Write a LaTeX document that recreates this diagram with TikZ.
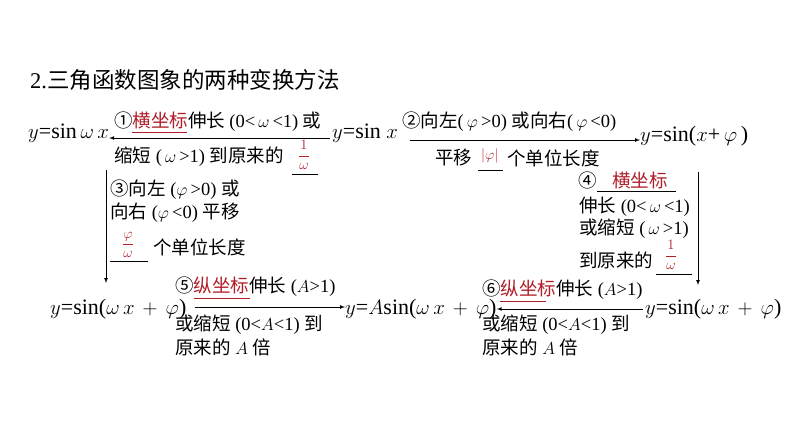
\documentclass[tikz,border=0pt]{standalone}
\usepackage{fontspec}
\setmainfont{Liberation Serif}
\newfontfamily\cjk{Noto Sans CJK SC}
\definecolor{myred}{RGB}{175,30,40}
\newcommand{\myeq}{\,=\,}
\newcommand{\mypl}{\,+\,}
\begin{document}
\begin{tikzpicture}[x=1pt,y=-1pt,
  t/.style={anchor=west,inner sep=0pt,font=\fontsize{18.5}{21}\selectfont},
  f/.style={anchor=west,inner sep=0pt,font=\fontsize{22}{25}\selectfont},
  fr/.style={inner sep=0pt,text=myred,font=\fontsize{15}{17}\selectfont},
  arr/.style={-latex,line width=0.7pt},
  bl/.style={line width=0.6pt}]
\useasboundingbox (0,0) rectangle (794,447);
\node[anchor=west,inner sep=0pt,font=\fontsize{22.5}{26}\selectfont] (title) at (30,80) {2.{\cjk 三角函数图象的两种变换方法}};
% row 1
\node[f] (a) at (28,133) {$y$=sin\,$\omega\, x$};
\node[f] (b) at (332,133) {$y$=sin $x$};
\node[f] (c) at (640,136) {$y$=sin($x$+\,$\varphi$\,)};
\draw[arr] (b.west)++(-2,5) coordinate (b1) -- (b1-|a.east);
\node[t] (l1) at (114,122) {\cjk ①\textcolor{myred}{横坐标}伸长 \rmfamily(0<\,$\omega$\,<1) \cjk 或};
\draw[bl,myred] (132,132) -- (187,132);
\node[t] (l2) at (114,157) {{\cjk 缩短} (\,$\omega$\,>1) {\cjk 到原来的}};
\node[fr] (fr1) at (304,155) {$\displaystyle\frac{1}{\omega}$};
\draw[bl] (292,174) -- (318,174);
\draw[arr] (410,140) coordinate (c0) -- (c0-|c.west);
\node[t] (l3) at (402,122) {\cjk ②向左\rmfamily (\,$\varphi$\,>0) \cjk 或向右\rmfamily (\,$\varphi$\,<0)};
\node[t] (l4) at (435,158) {\cjk 平移};
\node[t,text=myred,font=\fontsize{15}{17}\selectfont] (p1) at (481,156) {$|\varphi|$};
\draw[bl] (478,170) -- (503,170);
\node[t] (l5) at (507,158) {\cjk 个单位长度};
% vertical left
\node[f] (d) at (50,309) {$y$=sin($\omega\, x\mypl\varphi$)};
\draw[arr] (106,170) coordinate (v1) -- (106,283) coordinate (v1e);
\node[t] at (110,190) {{\cjk ③向左} ($\varphi$\,>0) {\cjk 或}};
\node[t] at (110,213) {{\cjk 向右} ($\varphi$\,<0) {\cjk 平移}};
\node[fr] (fr2) at (128,245) {$\displaystyle\frac{\varphi}{\omega}$};
\draw[bl] (110,261) -- (148,261);
\node[t] at (153,247) {\cjk 个单位长度};
% vertical right
\node[f] (e) at (645,309) {$y$=sin($\omega\, x\mypl\varphi$)};
\draw[arr] (698,172) -- (698,285);
\node[t] at (578,180) {\cjk ④};
\node[t,text=myred] at (612,180) {\cjk 横坐标};
\draw[bl] (597,191) -- (676,191);
\node[t] at (579,207) {{\cjk 伸长} (0<\,$\omega$\,<1)};
\node[t] at (579,229) {{\cjk 或缩短} (\,$\omega$\,>1)};
\node[t] at (579,260) {\cjk 到原来的};
\node[fr] (fr3) at (671,255) {$\displaystyle\frac{1}{\omega}$};
\draw[bl] (656,274) -- (692,274);
% row 3
\node[f] (g) at (345,309) {$y$=$A$sin($\omega\, x\mypl\varphi$)};
\draw[arr] (d.east)++(8,-2) coordinate (d1) -- (d1-|g.west);
\node[t] at (175,287) {{\cjk ⑤\textcolor{myred}{纵坐标}伸长} ($A$>1)};
\draw[bl,myred] (194,298) -- (250,298);
\node[t] at (175,325) {{\cjk 或缩短} (0<$A$<1) {\cjk 到}};
\node[t] at (175,347) {{\cjk 原来的} $A$ {\cjk 倍}};
\draw[arr] (e.west)++(-2,0) coordinate (e1) -- (e1-|g.east);
\node[t] at (482,290) {{\cjk ⑥\textcolor{myred}{纵坐标}伸长} ($A$>1)};
\draw[bl,myred] (500,301) -- (546,301);
\node[t] at (482,325) {{\cjk 或缩短} (0<$A$<1) {\cjk 到}};
\node[t] at (482,347) {{\cjk 原来的} $A$ {\cjk 倍}};
\end{tikzpicture}
\end{document}
